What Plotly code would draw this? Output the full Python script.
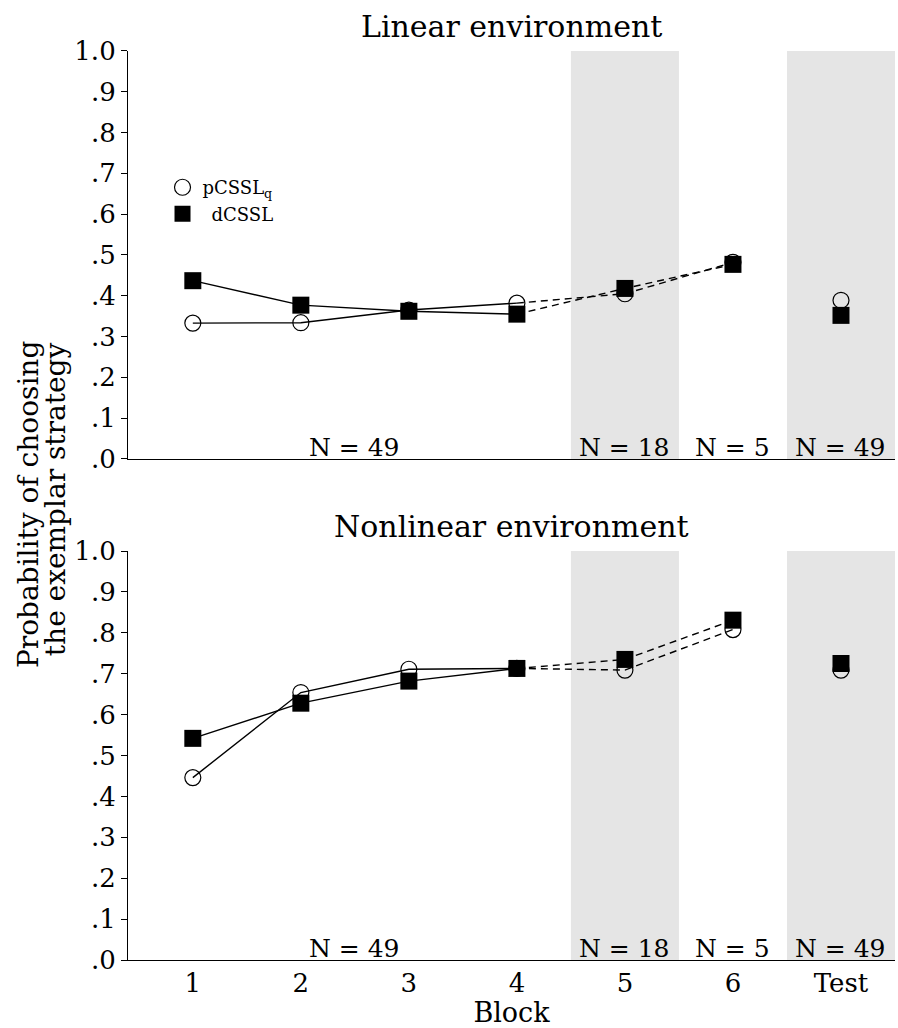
import plotly.graph_objects as go

blocks = [1, 2, 3, 4, 5, 6, 7]
tick_labels = ["1", "2", "3", "4", "5", "6", "Test"]
y_ticks = [0, .1, .2, .3, .4, .5, .6, .7, .8, .9, 1.0]
y_tick_labels = [".0", ".1", ".2", ".3", ".4", ".5", ".6", ".7", ".8", ".9", "1.0"]

# Linear environment
lin_p = [0.333, 0.334, 0.365, 0.382, 0.405, 0.482, 0.389]
lin_d = [0.437, 0.377, 0.362, 0.355, 0.418, 0.477, 0.352]
# Nonlinear environment
non_p = [0.446, 0.654, 0.711, 0.713, 0.709, 0.808, 0.709]
non_d = [0.542, 0.628, 0.682, 0.713, 0.735, 0.831, 0.725]

n_labels = ["N = 49", "N = 18", "N = 5", "N = 49"]
n_pos = [2.5, 5, 6, 7]
shaded = [(4.5, 5.5), (6.5, 7.5)]

FONT = "DejaVu Serif"
fig = go.Figure()

panels = [("x", "y", lin_p, lin_d), ("x2", "y2", non_p, non_d)]
for i, (xa, ya, p, d) in enumerate(panels):
    for series in (p, d):
        fig.add_trace(go.Scatter(x=blocks[0:4], y=series[0:4], xaxis=xa, yaxis=ya, mode="lines",
                                 line=dict(color="black", width=1.4), showlegend=False))
        fig.add_trace(go.Scatter(x=blocks[3:6], y=series[3:6], xaxis=xa, yaxis=ya, mode="lines",
                                 line=dict(color="black", width=1.4, dash="7px,5px"), showlegend=False))
    fig.add_trace(go.Scatter(x=blocks, y=p, xaxis=xa, yaxis=ya, mode="markers",
                             marker=dict(symbol="circle-open", size=16, color="black",
                                         line=dict(width=1.2, color="black")),
                             name="pCSSL<sub>q</sub>", showlegend=(i == 0)))
    fig.add_trace(go.Scatter(x=blocks, y=d, xaxis=xa, yaxis=ya, mode="markers",
                             marker=dict(symbol="square", size=17, color="black"),
                             name="\u2002dCSSL", showlegend=(i == 0)))
    for (a, b) in shaded:
        fig.add_shape(type="rect", xref=xa, yref=ya, x0=a, x1=b, y0=0, y1=1,
                      fillcolor="#e5e5e5", line=dict(width=0), layer="below")
    for txt, xp in zip(n_labels, n_pos):
        fig.add_annotation(x=xp, y=0, xref=xa, yref=ya, text=txt, showarrow=False,
                           yanchor="bottom", yshift=-5, font=dict(family=FONT, size=25, color="black"))

axis_common = dict(range=[0.4, 7.5], showgrid=False, zeroline=False, showline=True,
                   linecolor="black", linewidth=1.2, tickvals=blocks, ticktext=tick_labels,
                   ticks="", tickfont=dict(family=FONT, size=26, color="black"))
yaxis_common = dict(range=[0, 1], showgrid=False, zeroline=False, showline=True,
                    linecolor="black", linewidth=1.2, tickvals=y_ticks, ticktext=y_tick_labels,
                    ticks="outside", ticklen=6, tickcolor="black", tickwidth=1.2,
                    tickfont=dict(family=FONT, size=26, color="black"))

fig.update_layout(
    width=898, height=1028,
    margin=dict(l=128, r=3, t=20, b=40),
    plot_bgcolor="white", paper_bgcolor="white",
    xaxis=dict(axis_common, anchor="y", showticklabels=False),
    yaxis=dict(yaxis_common, domain=[0.5465, 0.968], anchor="x"),
    xaxis2=dict(axis_common, anchor="y2",
                title=dict(text="Block", font=dict(family=FONT, size=27, color="black"), standoff=0)),
    yaxis2=dict(yaxis_common, domain=[0.0289, 0.4514], anchor="x2"),
    legend=dict(x=0.045, y=0.846, xanchor="left", yanchor="top", bgcolor="rgba(0,0,0,0)",
                font=dict(family=FONT, size=18, color="black"), itemwidth=30, tracegroupgap=0),
    showlegend=True,
)

fig.add_annotation(text="Linear environment", x=0.5, y=0.968, xref="paper", yref="paper",
                   yanchor="bottom", yshift=5, showarrow=False,
                   font=dict(family=FONT, size=30, color="black"))
fig.add_annotation(text="Nonlinear environment", x=0.5, y=0.4514, xref="paper", yref="paper",
                   yanchor="bottom", yshift=5, showarrow=False,
                   font=dict(family=FONT, size=30, color="black"))
fig.add_annotation(text="Probability of choosing", textangle=-90,
                   x=(29 - 128) / 767, y=0.499, xref="paper", yref="paper", xanchor="center", yanchor="middle",
                   showarrow=False, font=dict(family=FONT, size=28, color="black"))
fig.add_annotation(text="the exemplar strategy", textangle=-90,
                   x=(55 - 128) / 767, y=0.505, xref="paper", yref="paper", xanchor="center", yanchor="middle",
                   showarrow=False, font=dict(family=FONT, size=28, color="black"))

fig.write_html("out.html")
